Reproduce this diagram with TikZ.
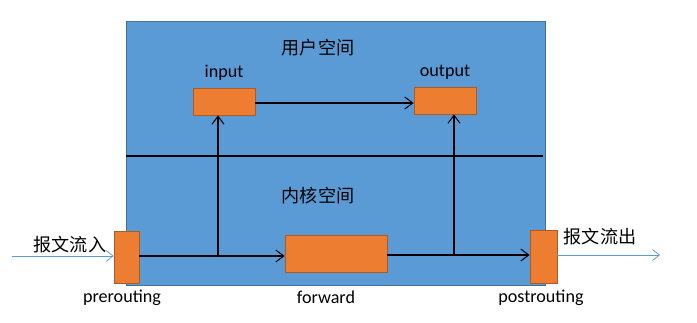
\documentclass[tikz,border=0pt]{standalone}
\usepackage{fontspec}
\setmainfont{Carlito}
\newfontfamily\cjk{Noto Sans CJK SC}
\usetikzlibrary{positioning,calc,arrows.meta}
\definecolor{spaceblue}{HTML}{5B9BD5}
\definecolor{spaceedge}{HTML}{41719C}
\definecolor{hookorange}{HTML}{ED7D31}
\definecolor{hookedge}{HTML}{AE5A21}

\begin{document}
\begin{tikzpicture}[
    x=0.02cm, y=-0.02cm,
    font=\fontsize{10.3}{12}\selectfont,
    hook/.style={rectangle, draw=hookedge, fill=hookorange, inner sep=0pt},
    arrow/.style={-{Straight Barb[length=1.6mm,width=2.4mm]}, semithick, black},
    flow/.style={-{Straight Barb[length=1.4mm,width=2.2mm]}, spaceblue, thin}
]
    \useasboundingbox (0,0) rectangle (697,323);
    % kernel/user area
    \node[rectangle, draw=spaceedge, fill=spaceblue, minimum width=419*0.02cm, minimum height=264*0.02cm, inner sep=0pt] (area) at (335.5,153) {};
    \draw[semithick] (126,156) coordinate (sl) -- (543,156) coordinate (sr);
    \node (user) at (318,48) {\cjk 用户空间};
    \node (kernel) at (318,196) {\cjk 内核空间};

    % hooks
    \node[hook, minimum width=62*0.02cm, minimum height=27*0.02cm] (in) at (224,101.5) {};
    \node[hook, minimum width=62*0.02cm, minimum height=27*0.02cm] (out) at (445,100.5) {};
    \node[hook, minimum width=102*0.02cm, minimum height=37*0.02cm] (fwd) at (336,254) {};
    \node[hook, minimum width=25*0.02cm, minimum height=52*0.02cm] (pre) at (126.5,257) {};
    \node[hook, minimum width=27*0.02cm, minimum height=53*0.02cm] (post) at (543.5,256.5) {};

    \node[above=0.02cm of in] {input};
    \node[above=0.02cm of out] {output};
    \node (fwdlbl) at (326,297) {forward};
    \node (prelbl) at (122,298) {prerouting};
    \node (postlbl) at (541,298) {postrouting};

    % packet in / out
    \coordinate (src) at (12,256);
    \coordinate (dst) at (660,255);
    \node (inlbl) at (70,245) {\cjk 报文流入};
    \node (outlbl) at (600,237) {\cjk 报文流出};
    \draw[flow] (src) -- (src -| pre.west);
    \draw[flow] (post.east |- dst) -- (dst);

    % paths
    \coordinate (j1) at (218,256);
    \coordinate (j2) at (454,255);
    \draw[arrow] (pre.east |- j1) -- (fwd.west |- j1);
    \draw[arrow] (j1) -- (j1 |- in.south);
    \draw[arrow] (fwd.east |- j2) -- (post.west |- j2);
    \draw[arrow] (j2) -- (j2 |- out.south);
    \draw[arrow] (in.east |- 0,103) -- (out.west |- 0,103);
\end{tikzpicture}
\end{document}
